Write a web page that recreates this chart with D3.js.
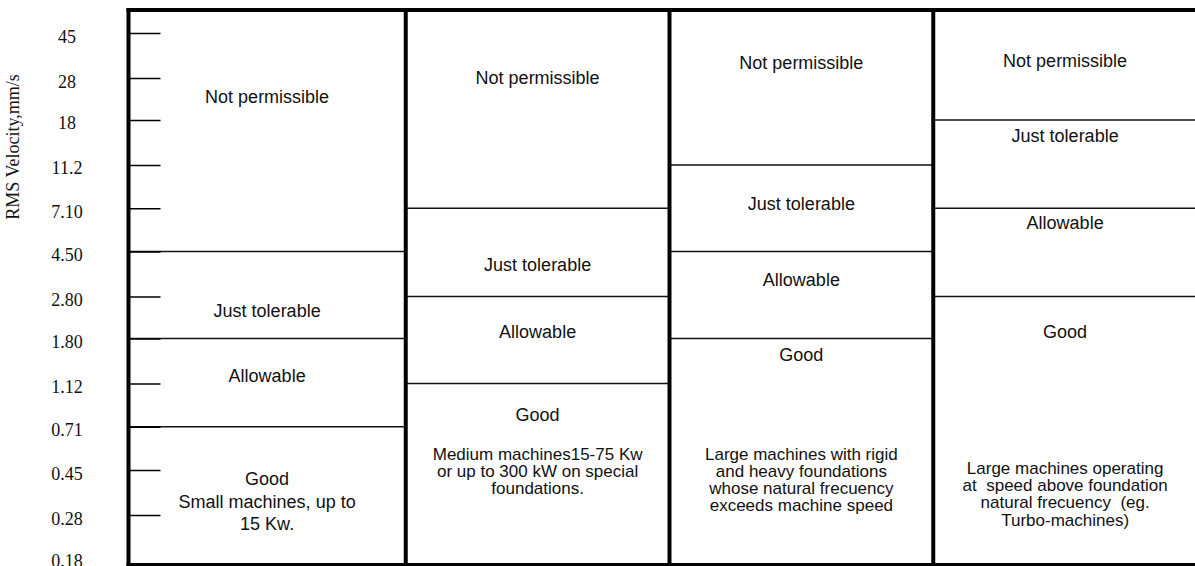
<!DOCTYPE html>
<html>
<head>
<meta charset="utf-8">
<script src="https://cdn.jsdelivr.net/npm/d3@7"></script>
<style>
  body { margin: 0; background: #fff; }
  svg { display: block; }
  text { white-space: pre; }
</style>
</head>
<body>
<svg id="chart"></svg>
<script>
// velocity ticks (mm/s) and how they are printed
const tickValues = [45, 28, 18, 11.2, 7.1, 4.5, 2.8, 1.8, 1.12, 0.71, 0.45, 0.28, 0.18]
const tickLabels = ['45', '28', '18', '11.2', '7.10', '4.50', '2.80', '1.80', '1.12', '0.71', '0.45', '0.28', '0.18']

const zones = ['Not permissible', 'Just tolerable', 'Allowable', 'Good']
const machineClasses = ['small', 'medium', 'largeRigid', 'largeSoft']

// zone limits per class, top to bottom (mm/s)
const zoneLimits = [
    [4.5, 1.8, 0.71],
    [7.1, 2.8, 1.12],
    [11.2, 4.5, 1.8],
    [18, 7.1, 2.8],
]

const descriptions = [
    ['Small machines, up to', '15 Kw.'],
    ['Medium machines15-75 Kw', 'or up to 300 kW on special', 'foundations.'],
    ['Large machines with rigid', 'and heavy foundations', 'whose natural frecuency', 'exceeds machine speed'],
    ['Large machines operating', 'at  speed above foundation', 'natural frecuency  (eg.', 'Turbo-machines)'],
]

// where each label sits inside its zone (fraction of zone height)
const labelFrac = [
    [0.36, 0.68, 0.42, 0.38],
    [0.34, 0.64, 0.40, 0.17],
    [0.34, 0.45, 0.32, 0.07],
    [0.46, 0.18, 0.16, 0.13],
]
const descFrac = [null, 0.39, 0.51, 0.64]

const width = 1195
const height = 566
const frameTop = 10
const frameBottom = 564.5
const frameLeft = 128.5
const sans = '"Liberation Sans", Arial, sans-serif'
const serif = '"Liberation Serif", "Times New Roman", serif'

const svg = d3.select('#chart').attr('width', width).attr('height', height)

const y = d3.scaleLog().domain([0.18, 45]).range([557, 33])
const x = d3.scaleBand().domain(machineClasses).range([142, 1197]).padding(0)

const colLeft = (i) => (i === 0 ? frameLeft : x(machineClasses[i]))
const colRight = (i) => x(machineClasses[i]) + x.bandwidth()

// zone boundary lines
const lines = svg.append('g')
machineClasses.forEach((c, i) => {
    lines.selectAll(`.b${i}`)
        .data(zoneLimits[i])
        .join('line')
        .attr('x1', colLeft(i))
        .attr('x2', colRight(i))
        .attr('y1', (d) => y(d))
        .attr('y2', (d) => y(d))
        .attr('stroke', '#111')
        .attr('stroke-width', 1.4)
})

// labels
const labels = svg.append('g')
    .attr('font-family', sans)
    .attr('font-size', 18)
    .attr('fill', '#111')
    .attr('text-anchor', 'middle')

machineClasses.forEach((c, i) => {
    const cx = (colLeft(i) + colRight(i)) / 2
    const edges = [frameTop, ...zoneLimits[i].map((d) => y(d)), frameBottom]
    zones.forEach((z, j) => {
        const top = edges[j]
        const bottom = edges[j + 1]
        const ly = top + labelFrac[i][j] * (bottom - top)
        labels.append('text')
            .attr('x', cx)
            .attr('y', ly)
            .attr('dy', '0.35em')
            .text(z)
        if (j === 3) {
            const first = descFrac[i] === null
            const step = first ? 22.5 : 17.2
            const start = first ? ly + step : top + descFrac[i] * (bottom - top)
            labels.selectAll(`.d${i}`)
                .data(descriptions[i])
                .join('text')
                .attr('x', cx)
                .attr('y', (d, k) => start + k * step)
                .attr('dy', '0.35em')
                .attr('font-size', first ? 18 : 17)
                .text((d) => d)
        }
    })
})

// axis with ticks pointing into the first column
const yAxis = d3.axisLeft(y)
    .tickValues(tickValues)
    .tickFormat((d, i) => tickLabels[i])
    .tickSize(-32)
    .tickPadding(0)
const axisG = svg.append('g')
    .attr('transform', `translate(${frameLeft},0)`)
    .call(yAxis)
axisG.select('.domain').remove()
axisG.selectAll('.tick line')
    .attr('stroke', '#000')
    .attr('stroke-width', 1.6)
    .filter((d) => d === 0.18)
    .remove()
axisG.selectAll('.tick text')
    .attr('x', 67 - frameLeft)
    .attr('dy', '0.5em')
    .attr('text-anchor', 'middle')
    .attr('font-family', serif)
    .attr('font-size', 18)
    .attr('fill', '#111')

svg.append('text')
    .attr('transform', 'translate(19,147) rotate(-90)')
    .attr('text-anchor', 'middle')
    .attr('font-family', serif)
    .attr('font-size', 18)
    .attr('fill', '#111')
    .text('RMS Velocity,mm/s')

// frame: heavy top, bottom, left and column dividers
const frame = svg.append('g').attr('stroke', '#000')
frame.append('line')
    .attr('x1', frameLeft - 2).attr('x2', width)
    .attr('y1', frameTop).attr('y2', frameTop)
    .attr('stroke-width', 4)
frame.append('line')
    .attr('x1', frameLeft - 2).attr('x2', width)
    .attr('y1', frameBottom).attr('y2', frameBottom)
    .attr('stroke-width', 3)
frame.selectAll('.v')
    .data(machineClasses)
    .join('line')
    .attr('x1', (d, i) => colLeft(i))
    .attr('x2', (d, i) => colLeft(i))
    .attr('y1', frameTop - 2)
    .attr('y2', height)
    .attr('stroke-width', 4)
</script>
</body>
</html>
